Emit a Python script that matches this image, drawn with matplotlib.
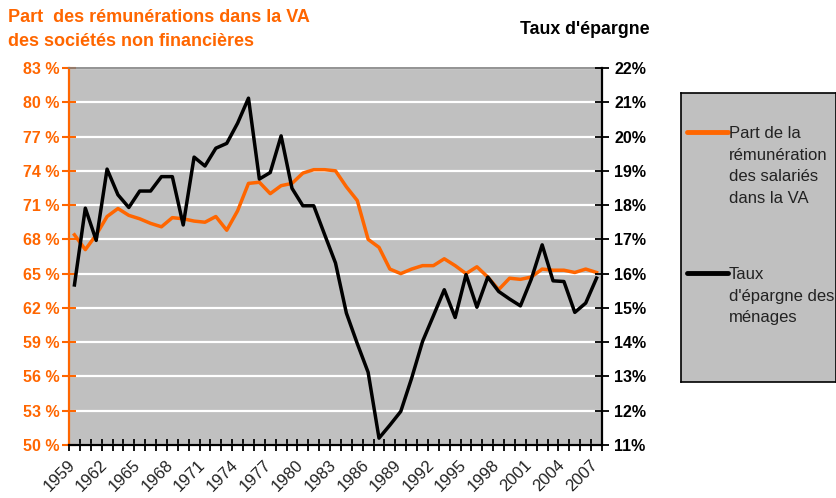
import numpy as np
import matplotlib.pyplot as plt
from matplotlib.transforms import ScaledTranslation

plt.rcParams['font.family'] = ['Liberation Sans', 'DejaVu Sans']

years = np.arange(1959, 2008)

# part des remunerations dans la VA (axe gauche, %)
part_va = [68.4, 67.1, 68.4, 70.0, 70.7, 70.1, 69.8, 69.4, 69.1, 69.9,
           69.8, 69.6, 69.5, 70.0, 68.8, 70.5, 72.9, 73.0, 72.0, 72.7,
           72.9, 73.8, 74.1, 74.1, 74.0, 72.6, 71.4, 68.0, 67.3, 65.4,
           65.0, 65.4, 65.7, 65.7, 66.3, 65.7, 65.0, 65.6, 64.7, 63.6,
           64.6, 64.5, 64.7, 65.4, 65.3, 65.3, 65.1, 65.4, 65.1]

# taux d'epargne des menages (axe droit, %)
taux_epargne = [15.67, 17.91, 16.97, 19.05, 18.30, 17.93, 18.41, 18.41, 18.83, 18.83,
                17.42, 19.40, 19.14, 19.66, 19.80, 20.39, 21.12, 18.76, 18.95, 20.02,
                18.49, 17.98, 17.98, 17.14, 16.31, 14.85, 13.96, 13.12, 11.20, 11.58,
                11.98, 12.95, 14.02, 14.77, 15.53, 14.72, 15.97, 15.02, 15.90, 15.48,
                15.26, 15.06, 15.84, 16.84, 15.79, 15.77, 14.87, 15.14, 15.87]

left_ticks = np.arange(50, 84, 3)
right_ticks = np.arange(11, 23, 1)

orange = '#FF6600'
grey = '#C0C0C0'
W, H = 837, 498

fig = plt.figure(figsize=(W / 100, H / 100), dpi=100)
ax = fig.add_axes([69 / W, 1 - 445 / H, (602 - 69) / W, (445 - 68) / H])
ax.set_facecolor(grey)

x = np.arange(len(years))
ax.plot(x, part_va, color=orange, lw=2.5, zorder=3)
ax.set_xlim(-0.5, len(years) - 0.5)
ax.set_ylim(50, 83)
ax.set_yticks(left_ticks)
ax.set_yticklabels(['%d %%' % v for v in left_ticks], fontsize=11.5, fontweight='bold')
ax.yaxis.grid(True, color='white', lw=1.6)
ax.set_axisbelow(True)

ax.set_xticks(np.arange(-0.5, len(years), 1), minor=True)
ax.set_xticks(x[::3])
ax.set_xticklabels(years[::3], rotation=45, ha='right', rotation_mode='anchor',
                   fontsize=12, color='#222222')
ax.tick_params(axis='x', which='major', length=0, pad=9)
ax.tick_params(axis='x', which='minor', direction='inout', length=8, width=1.3, color='black')
ax.tick_params(axis='y', direction='inout', length=10, width=1.5, color=orange,
               labelcolor=orange, pad=2)

ax.spines['left'].set_color(orange)
ax.spines['left'].set_linewidth(1.6)
ax.spines['bottom'].set_color('black')
ax.spines['bottom'].set_linewidth(1.6)
ax.spines['top'].set_color('#808080')
ax.spines['top'].set_linewidth(1.2)
ax.spines['right'].set_visible(False)

ax2 = ax.twinx()
ax2.plot(x, taux_epargne, color='black', lw=2.5, zorder=4)
ax2.set_ylim(11, 22)
ax2.set_yticks(right_ticks)
ax2.set_yticklabels(['%d%%' % v for v in right_ticks], fontsize=11.5, fontweight='bold')
ax2.tick_params(axis='y', direction='inout', length=10, width=1.3, color='black', pad=4)
for s in ['left', 'top', 'bottom']:
    ax2.spines[s].set_visible(False)
ax2.spines['right'].set_color('black')
ax2.spines['right'].set_linewidth(1.6)

# titres des axes
fig.text(8 / W, 1 - 18 / H, 'Part  des rémunérations dans la VA', color=orange,
         fontsize=13, fontweight='bold', va='center')
fig.text(8 / W, 1 - 42 / H, 'des sociétés non financières', color=orange,
         fontsize=13, fontweight='bold', va='center')
fig.text(650 / W, 1 - 30 / H, "Taux d'épargne", color='black',
         fontsize=12.8, fontweight='bold', va='center', ha='right')

# legende
lax = fig.add_axes([681 / W, 1 - 382 / H, 155 / W, 289 / H])
lax.set_facecolor(grey)
lax.set_xlim(0, 155)
lax.set_ylim(289, 0)
lax.set_xticks([])
lax.set_yticks([])
for s in lax.spines.values():
    s.set_color('black')
    s.set_linewidth(1.2)

entries = [(orange, 39, ['Part de la', 'rémunération', 'des salariés', 'dans la VA']),
           ('black', 180, ['Taux', "d'épargne des", 'ménages'])]
for col, y0, lines in entries:
    lax.plot([6, 47], [y0, y0], color=col, lw=3.5, solid_capstyle='round')
    for k, line in enumerate(lines):
        lax.text(48, y0 + k * 21.7, line, fontsize=12, color='#222222',
                 va='center_baseline', ha='left')

# decale les annees un peu vers la gauche, comme dans l'original
fig.canvas.draw()
shift = ScaledTranslation(-7 / 100, 0, fig.dpi_scale_trans)
for lbl in ax.get_xticklabels():
    lbl.set_transform(lbl.get_transform() + shift)

fig.savefig('out.png', dpi=100)
